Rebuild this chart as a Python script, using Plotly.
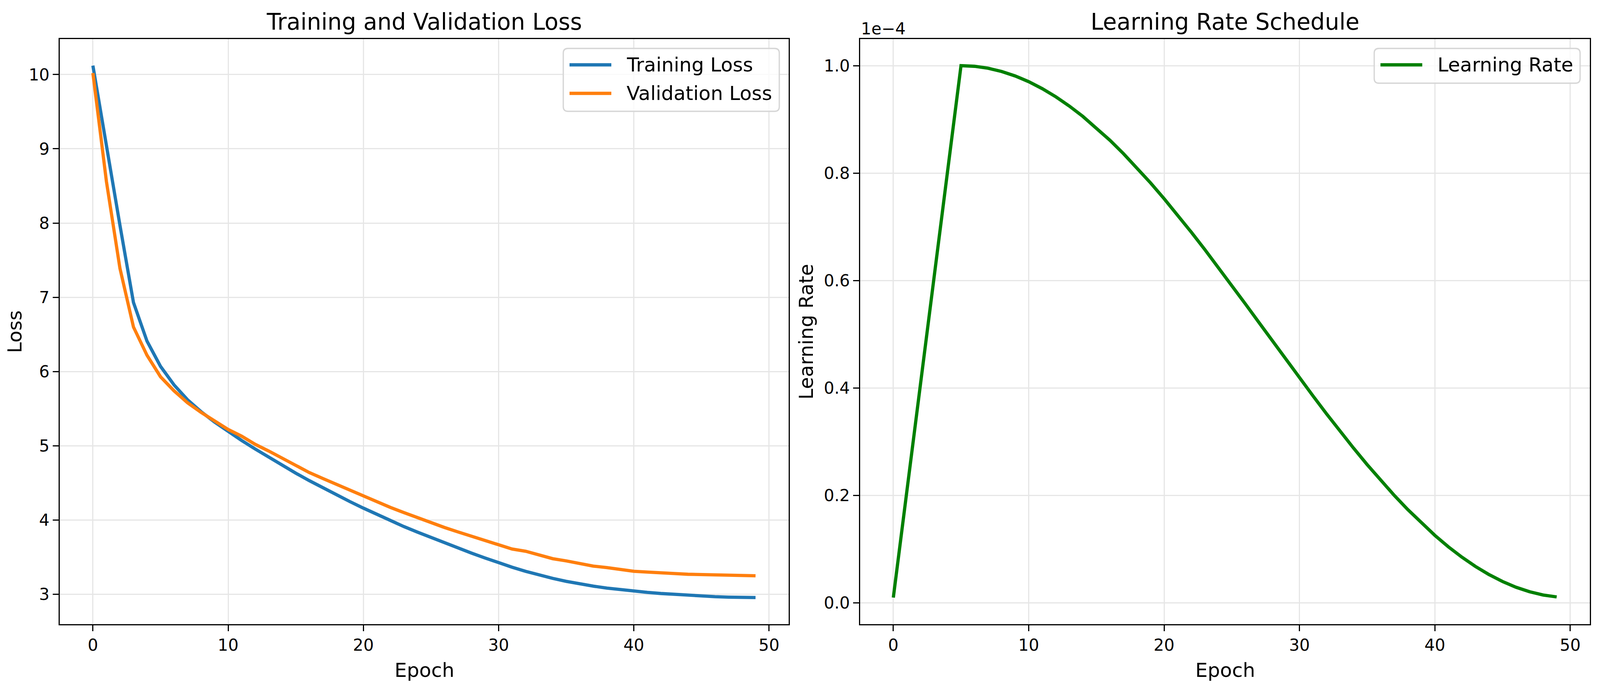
import plotly.graph_objects as go

# epochs and values
epochs = list(range(50))

train_loss = [10.12, 9.02, 7.97, 6.93, 6.41, 6.07, 5.82, 5.62, 5.46, 5.32,
              5.19, 5.072, 4.957, 4.845, 4.737, 4.632, 4.531, 4.434, 4.340, 4.249,
              4.161, 4.074, 3.991, 3.912, 3.837, 3.765, 3.693, 3.623, 3.555, 3.489,
              3.425, 3.365, 3.310, 3.260, 3.215, 3.175, 3.140, 3.110, 3.084, 3.062,
              3.043, 3.026, 3.011, 2.998, 2.986, 2.976, 2.968, 2.962, 2.958, 2.956]

val_loss = [10.02, 8.56, 7.39, 6.60, 6.22, 5.93, 5.74, 5.58, 5.45, 5.33,
            5.22, 5.13, 5.02, 4.93, 4.83, 4.73, 4.64, 4.56, 4.48, 4.40,
            4.32, 4.25, 4.17, 4.10, 4.03, 3.96, 3.90, 3.84, 3.78, 3.72,
            3.67, 3.61, 3.58, 3.53, 3.48, 3.45, 3.41, 3.38, 3.36, 3.33,
            3.31, 3.30, 3.285, 3.28, 3.27, 3.265, 3.26, 3.255, 3.25, 3.25]

# learning rate in units of 1e-4
lr_e4 = [0.01, 0.208, 0.406, 0.604, 0.802, 1.0, 0.9988, 0.9952, 0.9892, 0.9808,
         0.9702, 0.9572, 0.9421, 0.9248, 0.9055, 0.8842, 0.8611, 0.8362, 0.8098, 0.7818,
         0.7525, 0.7220, 0.6904, 0.6580, 0.6248, 0.5910, 0.5567, 0.5223, 0.4877, 0.4533,
         0.4190, 0.3853, 0.3520, 0.3196, 0.2880, 0.2575, 0.2282, 0.2003, 0.1738, 0.1489,
         0.1258, 0.1045, 0.0852, 0.0679, 0.0528, 0.0399, 0.0292, 0.0208, 0.0148, 0.0112]
lr = [v * 1e-4 for v in lr_e4]

x_ticks = [0, 10, 20, 30, 40, 50]
loss_ticks = [3, 4, 5, 6, 7, 8, 9, 10]
lr_tick_labels = ['0.0', '0.2', '0.4', '0.6', '0.8', '1.0']
lr_ticks = [float(t) * 1e-4 for t in lr_tick_labels]

# the browser viewport is only 4096 px wide, so the page is laid out for that
# (the body keeps its 8 px margin, hence 4080 x 1748)
W, H = 4080, 1748
FONT = 'DejaVu Sans'


def px(x):
    return x / W


def py(y):
    return 1 - y / H


# axes boxes in canvas pixels (left, right, top, bottom)
ax1 = (145, 2011, 92, 1590)
ax2 = (2194, 4062, 92, 1590)

data = [
    go.Scatter(x=epochs, y=train_loss, name='Training Loss', mode='lines',
               line=dict(color='#1f77b4', width=8.3), xaxis='x', yaxis='y'),
    go.Scatter(x=epochs, y=val_loss, name='Validation Loss', mode='lines',
               line=dict(color='#ff7f0e', width=8.3), xaxis='x', yaxis='y'),
    go.Scatter(x=epochs, y=lr, name='Learning Rate', mode='lines',
               line=dict(color='#008000', width=8.3), xaxis='x2', yaxis='y2'),
]

axis_style = dict(showline=True, mirror=True, linecolor='black', linewidth=3.3,
                  ticks='outside', ticklen=14.6, tickwidth=3.3, tickcolor='black',
                  showgrid=True, gridcolor='#e6e6e6', gridwidth=3.3, zeroline=False,
                  tickfont=dict(family=FONT, size=42, color='black'))

layout = go.Layout(
    width=W, height=H,
    margin=dict(l=0, r=0, t=0, b=0),
    paper_bgcolor='white', plot_bgcolor='white',
    showlegend=False,
    font=dict(family=FONT, color='black'),
    xaxis=dict(domain=[px(ax1[0]), px(ax1[1])], range=[-2.45, 51.45],
               tickvals=x_ticks, anchor='y', **axis_style),
    yaxis=dict(domain=[py(ax1[3]), py(ax1[2])], range=[2.598, 10.478],
               tickvals=loss_ticks, anchor='x', **axis_style),
    xaxis2=dict(domain=[px(ax2[0]), px(ax2[1])], range=[-2.45, 51.45],
                tickvals=x_ticks, anchor='y2', **axis_style),
    yaxis2=dict(domain=[py(ax2[3]), py(ax2[2])], range=[-0.0395e-4, 1.0495e-4],
                tickvals=lr_ticks, ticktext=lr_tick_labels, anchor='x2', **axis_style),
)

fig = go.Figure(data=data, layout=layout)

# titles and axis labels
for ax, title, ylabel, ylab_x in [(ax1, 'Training and Validation Loss', 'Loss', 30),
                                  (ax2, 'Learning Rate Schedule', 'Learning Rate', 2056)]:
    cx = (ax[0] + ax[1]) / 2
    fig.add_annotation(x=px(cx), y=py(48), xref='paper', yref='paper', text=title,
                       showarrow=False, xanchor='center', yanchor='middle',
                       font=dict(family=FONT, size=58))
    fig.add_annotation(x=px(cx), y=py(1708), xref='paper', yref='paper', text='Epoch',
                       showarrow=False, xanchor='center', yanchor='middle',
                       font=dict(family=FONT, size=50))
    fig.add_annotation(x=px(ylab_x), y=py((ax[2] + ax[3]) / 2), xref='paper', yref='paper',
                       text=ylabel, textangle=-90, showarrow=False,
                       xanchor='center', yanchor='middle', font=dict(family=FONT, size=50))

# offset text of the learning rate axis
fig.add_annotation(x=px(ax2[0]), y=py(ax2[2]), xref='paper', yref='paper', text='1e\u22124',
                   showarrow=False, xanchor='left', yanchor='bottom',
                   font=dict(family=FONT, size=42))


# legends, drawn like matplotlib ones
def legend_box(x0, x1, y0, y1, r=12):
    path = (f'M {px(x0 + r)},{py(y0)} L {px(x1 - r)},{py(y0)} Q {px(x1)},{py(y0)} {px(x1)},{py(y0 + r)} '
            f'L {px(x1)},{py(y1 - r)} Q {px(x1)},{py(y1)} {px(x1 - r)},{py(y1)} '
            f'L {px(x0 + r)},{py(y1)} Q {px(x0)},{py(y1)} {px(x0)},{py(y1 - r)} '
            f'L {px(x0)},{py(y0 + r)} Q {px(x0)},{py(y0)} {px(x0 + r)},{py(y0)} Z')
    fig.add_shape(type='path', path=path, xref='paper', yref='paper', layer='above',
                  line=dict(color='#d6d6d6', width=3.3), fillcolor='rgba(255,255,255,0.8)')


def legend_item(x0, y, label, color):
    fig.add_shape(type='line', x0=px(x0 + 16), x1=px(x0 + 123), y0=py(y), y1=py(y),
                  xref='paper', yref='paper', layer='above',
                  line=dict(color=color, width=8.3))
    fig.add_annotation(x=px(x0 + 160), y=py(y), xref='paper', yref='paper', text=label,
                       showarrow=False, xanchor='left', yanchor='middle',
                       font=dict(family=FONT, size=50))


lx = ax1[1] - 24 - 553
legend_box(lx, ax1[1] - 24, 116, 277)
legend_item(lx, 158, 'Training Loss', '#1f77b4')
legend_item(lx, 231, 'Validation Loss', '#ff7f0e')

rx = ax2[1] - 25 - 527
legend_box(rx, ax2[1] - 25, 116, 205)
legend_item(rx, 158, 'Learning Rate', '#008000')

fig.write_html("out.html")
